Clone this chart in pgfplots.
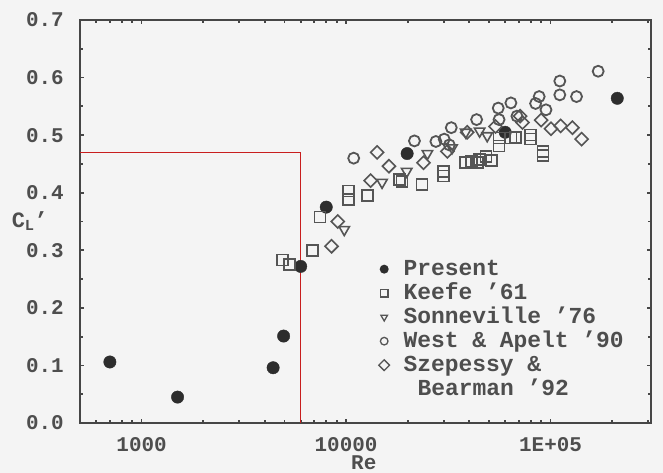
\documentclass[border=0pt]{standalone}
\usepackage{pgfplots}
\pgfplotsset{compat=1.18}
\usepackage{fontspec}
\setmainfont{Liberation Mono}
\definecolor{txt}{RGB}{78,78,78}
\definecolor{ink}{RGB}{70,70,70}
\definecolor{dot}{RGB}{45,45,45}
\definecolor{mk}{RGB}{85,85,85}
\definecolor{bg}{RGB}{244,244,244}
\definecolor{redl}{RGB}{200,30,30}
\begin{document}
\begin{tikzpicture}
\fill[bg] (-80bp,-50bp) rectangle (583bp,423bp);
\begin{axis}[
  scale only axis, width=571bp, height=403bp,
  xmode=log, xmin=500, xmax=310000, ymin=0, ymax=0.7,
  xtick={1000,10000,100000}, xticklabels={1000,10000,1E+05},
  minor xtick={600,700,800,900,2000,3000,4000,5000,6000,7000,8000,9000,20000,30000,40000,50000,60000,70000,80000,90000,200000,300000},
  ytick={0,0.1,0.2,0.3,0.4,0.5,0.6,0.7},
  yticklabels={0.0,0.1,0.2,0.3,0.4,0.5,0.6,0.7},
  minor ytick={0.05,0.15,0.25,0.35,0.45,0.55,0.65},
  xtick pos=both, ytick pos=both, tick align=inside,
  axis line style={draw=ink, line width=2.2bp},
  every major tick/.append style={draw=ink, line width=1.8bp},
  every minor tick/.append style={draw=ink, line width=1.8bp},
  tick label style={txt, font=\fontsize{21}{21}\selectfont\bfseries},
  yticklabel style={inner sep=0pt, xshift=-16bp},
  xticklabel style={inner sep=0pt, yshift=-14bp},
  xlabel={Re}, xlabel style={at={(axis description cs:0.497,-0.098)}, anchor=center, txt, font=\fontsize{21}{21}\selectfont\bfseries},
  ylabel={C\textsubscript{L}'}, ylabel style={rotate=-90, at={(axis description cs:-0.088,0.5)}, anchor=center, txt, font=\fontsize{22}{22}\selectfont\bfseries},
  legend cell align=left,
  legend style={at={(axis description cs:0.5175,0.412)}, anchor=north west, draw=none, fill=none,
    font=\fontsize{23}{23}\selectfont\bfseries, text=txt, row sep=0pt, column sep=13bp, inner sep=0pt,
    nodes={inner sep=1bp, text height=17bp, text depth=5bp}},
  legend image post style={mark size=3.8bp, line width=1.3bp},
]
\addplot[only marks, mark=*, mark size=6.2bp, draw=dot, fill=dot] coordinates {
(700,0.106) (1500,0.045) (4400,0.096) (4950,0.151) (6000,0.272) (8000,0.375)
(19900,0.468) (60000,0.505) (212000,0.564)};
\addlegendentry{Present}
\addplot[only marks, mark=square, mark size=5.5bp, draw=mk, line width=1.6bp] coordinates {
(4900,0.283) (5300,0.275) (6850,0.300) (7450,0.358) (10300,0.403) (10300,0.388)
(12700,0.395) (18200,0.423) (18800,0.420) (23500,0.414) (29900,0.437) (29900,0.429)
(38400,0.452) (41000,0.455) (44000,0.452) (44800,0.458) (48400,0.463) (51600,0.456)
(56000,0.495) (56000,0.481) (64000,0.495) (67500,0.496) (80000,0.500) (80000,0.493)
(92000,0.472) (92000,0.465)};
\addlegendentry{Keefe '61}
\addplot[only marks, mark=triangle, mark size=6bp, mark options={rotate=180}, draw=mk, line width=1.6bp] coordinates {
(9800,0.336) (15000,0.418) (19800,0.437) (25000,0.468) (33000,0.478) (38500,0.505)
(45000,0.507) (49000,0.499)};
\addlegendentry{Sonneville '76}
\addplot[only marks, mark=o, mark size=5.5bp, draw=mk, line width=1.8bp] coordinates {
(10900,0.460) (21600,0.490) (27500,0.489) (30200,0.493) (32700,0.513) (32000,0.483)
(43500,0.527) (55500,0.547) (56000,0.527) (64000,0.556) (68500,0.533) (84500,0.555)
(88000,0.567) (95000,0.544) (111000,0.594) (111000,0.570) (134000,0.567) (171000,0.611)};
\addlegendentry{West \& Apelt '90}
\addplot[only marks, mark=square, mark size=4.6bp, mark options={rotate=45}, draw=mk, line width=1.6bp] coordinates {
(8500,0.307) (9100,0.350) (13200,0.421) (14200,0.470) (16200,0.446) (23900,0.452)
(31300,0.472) (39100,0.505) (53800,0.515) (71000,0.533) (73000,0.522) (90000,0.526)
(100500,0.511) (112000,0.516) (128000,0.513) (142000,0.493)};
\addlegendentry{Szepessy \&}
\addlegendimage{empty legend}
\addlegendentry{\hspace*{14bp}Bearman '92}
\addplot[redl, line width=1.2bp, forget plot] coordinates {(500,0.47) (6000,0.47) (6000,0)};
\end{axis}
\end{tikzpicture}
\end{document}
